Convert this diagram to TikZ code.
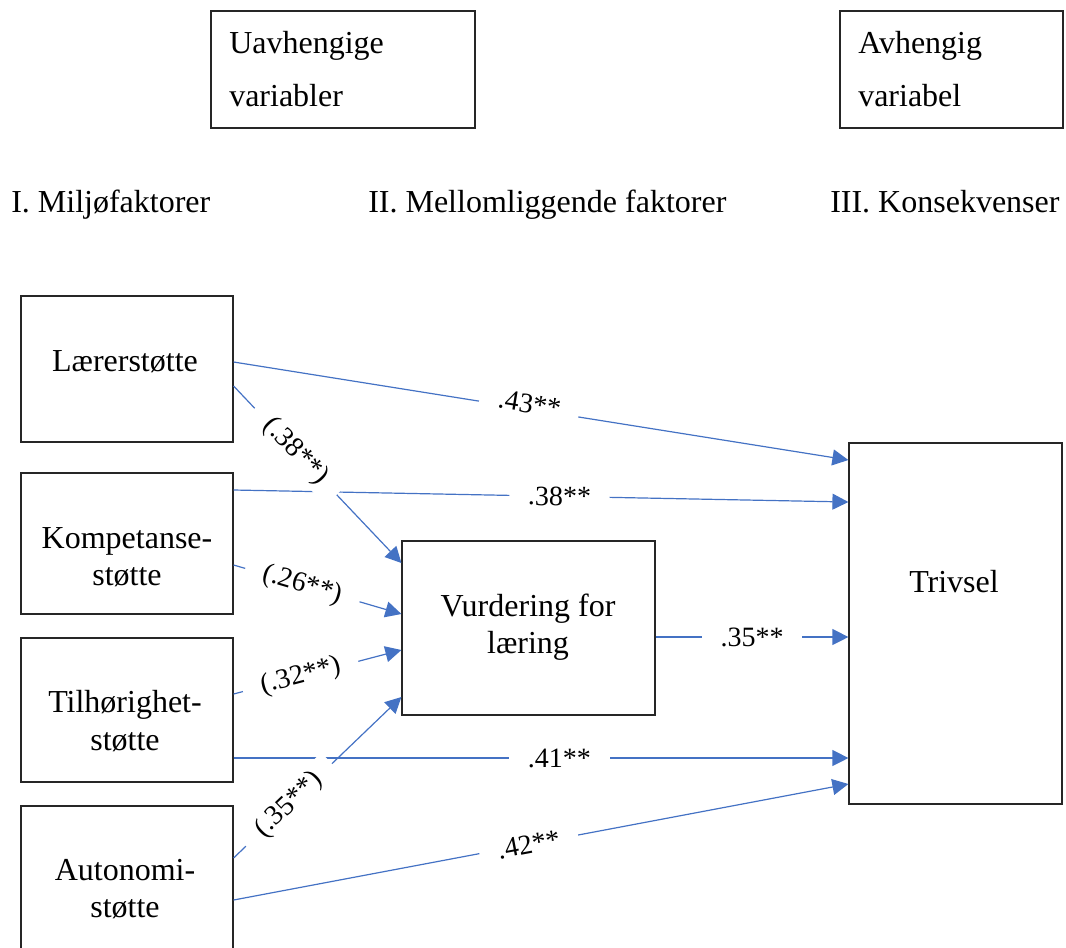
\documentclass[tikz,border=0pt]{standalone}
\usepackage{fontspec}
\setmainfont{Liberation Serif}
\usetikzlibrary{arrows.meta}
\definecolor{lnblue}{HTML}{4472C4}
\begin{document}
\begin{tikzpicture}[x=0.75pt,y=-0.75pt,
  frame/.style={draw=black!85, line width=0.9pt, inner sep=0pt},
  txt/.style={font=\fontsize{24}{28}\selectfont, inner sep=0pt, align=center},
  conn/.style={draw=lnblue, line width=0.9pt, -{Triangle[length=12pt,width=12pt]}},
  lab/.style={fill=white, inner xsep=14pt, inner ysep=2pt, font=\fontsize{21}{25}\selectfont, sloped}]
\useasboundingbox (0,0) rectangle (1066,947);

% top legend boxes
\node[frame, minimum width=198pt, minimum height=87.75pt] (uav) at (343,69.5) {};
\node[frame, minimum width=167.25pt, minimum height=87.75pt] (avh) at (951.5,69.5) {};
\node[txt, align=left, anchor=west, font=\fontsize{24}{40}\selectfont] (uavt) at (229,69) {Uavhengige\\variabler};
\node[txt, align=left, anchor=west, font=\fontsize{24}{40}\selectfont] (avht) at (858,69) {Avhengig\\variabel};

% headers
\node[txt, anchor=base west] (h1) at (11,212) {I. Miljøfaktorer};
\node[txt, anchor=base west] (h2) at (368,212) {II. Mellomliggende faktorer};
\node[txt, anchor=base west] (h3) at (830,212) {III. Konsekvenser};

% boxes
\node[frame, minimum width=159pt, minimum height=109.5pt] (lar) at (127,369) {};
\node[frame, minimum width=159pt, minimum height=105.75pt] (komp) at (127,543.5) {};
\node[frame, minimum width=159pt, minimum height=108pt] (tilh) at (127,710) {};
\node[frame, minimum width=159pt, minimum height=109.5pt] (auto) at (127,879) {};
\node[frame, minimum width=189.75pt, minimum height=130.5pt] (vurd) at (528.5,628) {};
\node[frame, minimum width=159.75pt, minimum height=270.75pt] (triv) at (955.5,623.5) {};

\node[txt, anchor=base] (lart) at (125,371) {Lærerstøtte};
\node[txt] (kompt) at (127,557) {Kompetanse-\\støtte};
\node[txt] (tilht) at (125,721) {Tilhørighet-\\støtte};
\node[txt] (autot) at (125,889) {Autonomi-\\støtte};
\node[txt] (vurdt) at (528,627) {Vurdering for\\læring};
\node[txt, anchor=base] (trivt) at (954,592) {Trivsel};

% connectors (order matters: later labels cover earlier lines)
\draw[conn] (lar.east |- 0,362) -- (triv.west |- 0,460) node[lab, pos=.48, yshift=4pt] {.43**};
\draw[conn] (komp.east |- 0,490) -- (triv.west |- 0,502) node[lab, pos=.53] {.38**};
\draw[conn] (tilh.east |- 0,758) -- (triv.west |- 0,758) node[lab, pos=.53] {.41**};
\draw[conn] (auto.east |- 0,900) -- (triv.west |- 0,784) node[lab, pos=.48] {.42**};
\draw[conn] (vurd.east |- 0,637) -- (triv.west |- 0,637) node[lab, pos=.5] {.35**};
\draw[conn] (lar.east |- 0,386) -- (vurd.west |- 0,563) node[lab, pos=.37] {(.38**)};
\draw[conn] (komp.east |- 0,565) -- (vurd.west |- 0,614) node[lab, pos=.41] {(.26**)};
\draw[conn] (tilh.east |- 0,694) -- (vurd.west |- 0,650) node[lab, pos=.40] {(.32**)};
\draw[conn] (auto.east |- 0,858) -- (vurd.west |- 0,697) node[lab, pos=.33] {(.35**)};
\end{tikzpicture}
\end{document}
